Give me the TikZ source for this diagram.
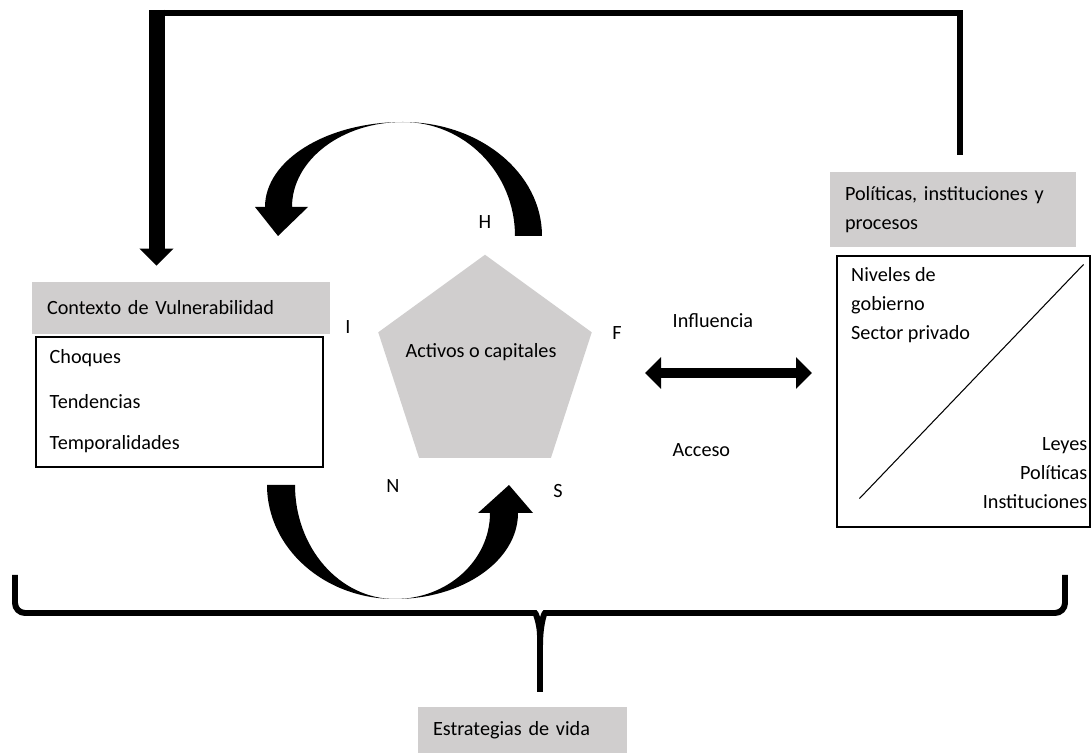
\documentclass[tikz,border=0pt]{standalone}
\usepackage{fontspec}
\setmainfont{Carlito}
\usepackage{tikz}
\usetikzlibrary{arrows.meta}
\usetikzlibrary{shapes.geometric}
\usetikzlibrary{calc}
\definecolor{boxgray}{RGB}{208,206,206}
\tikzset{
  graybox/.style={fill=boxgray, inner xsep=0.3cm, align=left},
  whitebox/.style={draw=black, line width=0.6pt},
  letter/.style={font=\fontsize{11.5}{13}\selectfont},
  thickline/.style={line width=3.8pt},
}

\begin{document}
\begin{tikzpicture}[font=\fontsize{11.5}{16.5}\selectfont]
\useasboundingbox (0,0) rectangle (21.84,15.06);
%%% Draws left side
% draws boxes
\node[graybox, text width=5.36cm, minimum height=1.04cm] (vulHead) at (3.62,8.90) {Contexto de Vulnerabilidad};
\node[whitebox, minimum width=5.74cm, minimum height=2.6cm] (vulBox) at (3.59,7.02) {};
% labels box
\node[anchor=west] (choq) at (0.87,7.9) {Choques};
\node[anchor=west] (tend) at (0.87,7.02) {Tendencias};
\node[anchor=west] (temp) at (0.87,6.18) {Temporalidades};
%%% Draws centre
% draws pentagon
\node[regular polygon, regular polygon sides=5, fill=boxgray, minimum size=4.49cm, inner sep=0pt, outer sep=0pt] (activos) at (9.7,7.72) {};
\node (actTxt) at (9.62,8.02) {Activos o capitales};
% labels capitals
\node[letter] (capH) at (9.7,10.62) {H};
\node[letter] (capI) at (6.96,8.52) {I};
\node[letter] (capF) at (12.34,8.4) {F};
\node[letter] (capN) at (7.86,5.34) {N};
\node[letter] (capS) at (11.16,5.24) {S};
% draws upper curved arrow
\fill[black] (10.84,10.34) arc[start angle=0, end angle=90, x radius=2.78, y radius=2.28]
  arc[start angle=90, end angle=180, x radius=2.76, y radius=1.70]
  -- (5.1,10.92) -- (5.56,10.34) -- (6.16,10.92) -- (5.84,10.92)
  arc[start angle=180, end angle=90, x radius=2.22, y radius=1.70]
  arc[start angle=90, end angle=0, x radius=2.24, y radius=2.28] -- cycle;
% draws lower curved arrow
\fill[black] (5.34,5.36) arc[start angle=180, end angle=270, x radius=2.56, y radius=2.28]
  arc[start angle=270, end angle=360, x radius=2.46, y radius=1.72]
  -- (10.66,4.8) -- (10.18,5.36) -- (9.56,4.8) -- (9.8,4.8)
  arc[start angle=0, end angle=-90, x radius=1.9, y radius=1.72]
  arc[start angle=270, end angle=180, x radius=2.0, y radius=2.28] -- cycle;
% draws double arrow
\coordinate (infL) at (12.9,7.6);
\coordinate (infR) at (16.24,7.6);
\draw[line width=6.2pt, {Triangle[length=0.32cm,width=0.62cm]}-{Triangle[length=0.32cm,width=0.62cm]}] (infL) -- (infR);
\node[anchor=west] (influ) at (13.33,8.64) {Influencia};
\node[anchor=west] (acceso) at (13.33,6.06) {Acceso};
%%% Draws right side
% draws boxes
\node[graybox, text width=4.32cm, minimum height=1.5cm] (polHead) at (19.06,10.87) {Políticas, instituciones y\\procesos};
\node[whitebox, minimum width=5.06cm, minimum height=5.42cm] (polBox) at (19.27,7.23) {};
\draw[line width=0.6pt] ($(polBox.south west)+(0.46,0.58)$) -- ($(polBox.north east)+(-0.14,-0.18)$);
% labels box
\node[anchor=west, align=left] (gob) at (16.9,8.96) {Niveles de\\gobierno\\Sector privado};
\node[anchor=east, align=right] (leyes) at (21.87,5.6) {Leyes\\Políticas\\Instituciones};
%%% Draws feedback line
\coordinate (polTop) at (19.2,11.96);
\coordinate (cornerTL) at (3.13,14.8);
\draw[thickline] (polTop) |- (cornerTL);
\draw[line width=0.32cm, -{Triangle[length=0.34cm,width=0.66cm]}] ([yshift=0.067cm]cornerTL) -- ($(vulHead.north -| cornerTL)+(0,0.32)$);
%%% Draws brace
\coordinate (brL) at (0.3,3.56);
\coordinate (brR) at (21.3,3.56);
\coordinate (brTip) at (10.8,1.22);
\draw[line width=3.4pt, rounded corners=0.2cm] (brL) -- (0.3,2.8) -- (10.5,2.8) .. controls (10.72,2.8) and (10.8,2.55) .. (10.8,2.15) -- (brTip);
\draw[line width=3.4pt, rounded corners=0.2cm] (brR) -- (21.3,2.8) -- (11.1,2.8) .. controls (10.88,2.8) and (10.8,2.55) .. (10.8,2.15);
\node[graybox, text width=3.58cm, minimum height=0.92cm] (estrat) at (10.45,0.46) {Estrategias de vida};
\end{tikzpicture}
\end{document}
